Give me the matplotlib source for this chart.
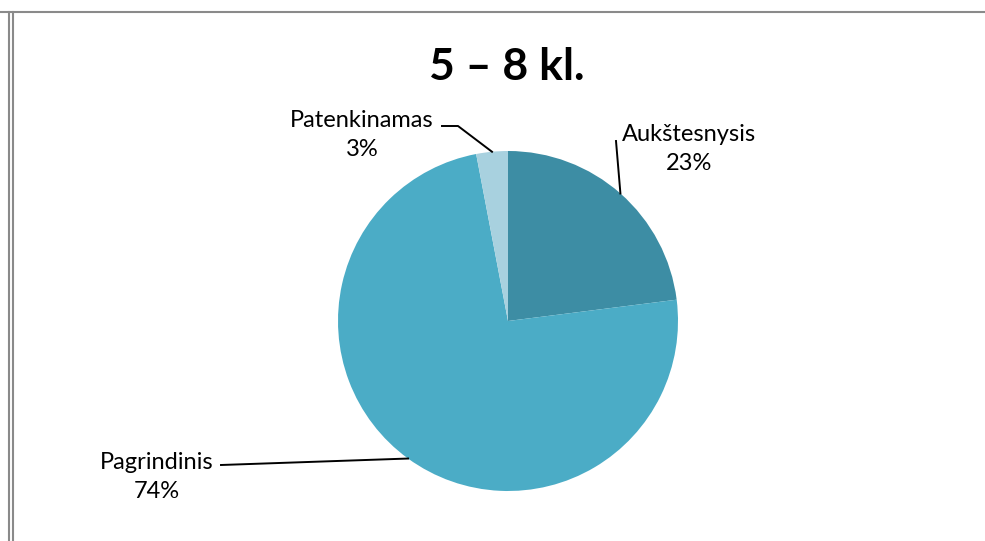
import numpy as np
import matplotlib
matplotlib.use("Agg")
import matplotlib.pyplot as plt
from matplotlib.lines import Line2D

title = "5 – 8 kl."
categories = ["Aukštesnysis", "Pagrindinis", "Patenkinamas"]
values = [23, 74, 3]
colors = ["#3D8DA4", "#4BACC6", "#A8D1DF"]

W, H = 985, 541
fig = plt.figure(figsize=(W / 100, H / 100), dpi=100)
plt.rcParams['font.family'] = ['Lato', 'DejaVu Sans']

# frame lines (pixel coords)
def px_line(x0, y0, x1, y1, **kw):
    fig.add_artist(Line2D([x0 / W, x1 / W], [1 - y0 / H, 1 - y1 / H],
                          transform=fig.transFigure, color="#8A8A8A", lw=1.5, **kw))

px_line(0, 11.8, W, 11.8)
px_line(9, 11.8, 9, H)
px_line(13, 11.8, 13, H)

ax = fig.add_axes([0, 0, 1, 1])

cx, cy, r = 508, 321, 170
wedges, _ = ax.pie(values, colors=colors, startangle=-90, counterclock=True,
                   center=(cx, cy), radius=r, frame=True,
                   wedgeprops=dict(linewidth=0))
ax.set_xlim(0, W)
ax.set_ylim(H, 0)
ax.set_aspect("equal")
ax.axis("off")

ax.text(507, 67, title, ha="center", va="center", fontsize=32, fontweight="bold")

# label positions (layout) : text center, elbow points
label_pos = {
    "Aukštesnysis": dict(text=(689, 149), path=[(616, 141)]),
    "Pagrindinis": dict(text=(157, 477), path=[(221, 465)]),
    "Patenkinamas": dict(text=(362, 135), path=[(458, 126), (442, 126)]),
}

total = sum(values)
for cat, v, w in zip(categories, values, wedges):
    mid = np.deg2rad((w.theta1 + w.theta2) / 2)
    p0 = (cx + r * np.cos(mid), cy + r * np.sin(mid))
    lp = label_pos[cat]
    pts = [p0] + lp["path"]
    ax.plot([p[0] for p in pts], [p[1] for p in pts], color="black", lw=1.4)
    ax.text(lp["text"][0], lp["text"][1], f"{cat}\n{round(100 * v / total)}%",
            ha="center", va="center", fontsize=17, linespacing=1.5)

fig.savefig("out.png", dpi=100, facecolor="white")
